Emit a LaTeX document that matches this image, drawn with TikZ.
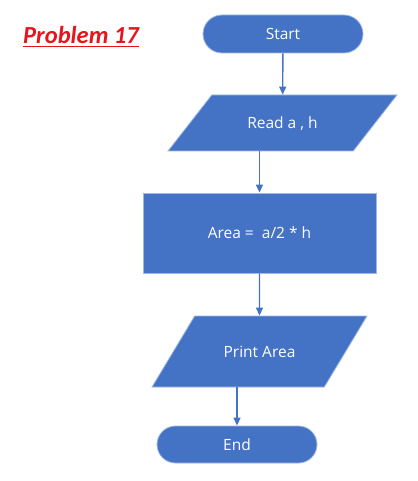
\documentclass[tikz,border=0pt]{standalone}
\usepackage{fontspec}
\setmainfont{Open Sans}
\newfontfamily\titlefont{Carlito}
\usetikzlibrary{shapes.geometric,shapes.misc,arrows.meta}
\definecolor{flowblue}{RGB}{68,114,196}
\definecolor{edgeblue}{RGB}{160,185,230}
\definecolor{titlered}{RGB}{232,20,28}
\begin{document}
\begin{tikzpicture}[x=1pt,y=-1pt,
  box/.style={fill=flowblue, draw=edgeblue, line width=0.8pt, text=white,
    font=\fontsize{15.5}{18}\selectfont, inner sep=0pt, text height=12.5pt, text depth=1.5pt},
  term/.style={box, rounded rectangle, minimum width=160pt, minimum height=38pt},
  proc/.style={box, rectangle, minimum width=233pt, minimum height=80pt},
  io/.style={box, trapezium, trapezium stretches body=true},
  flow/.style={-{Triangle[length=8pt,width=7pt]}, flowblue, line width=1.4pt}]
\useasboundingbox (0,0) rectangle (417,481);
% title
\node[text=titlered, font=\titlefont\bfseries\itshape\fontsize{24.5}{28}\selectfont,
  anchor=base west, inner sep=0pt] (title) at (23,44) {Problem 17};
\draw[titlered, line width=1.6pt] ([yshift=-2.5pt]title.base west) -- ([yshift=-2.5pt]title.base east);
% shapes
\node[term] (start) at (283,34) {Start};
\node[io, minimum width=229pt, inner ysep=21pt,
  trapezium left angle=52, trapezium right angle=128] (read) at (282.5,123) {Read a , h};
\node[proc] (area) at (259.5,233) {Area =\ \ a/2 * h};
\node[io, minimum width=215pt, inner ysep=28.5pt,
  trapezium left angle=59, trapezium right angle=121] (print) at (259.5,351.5) {Print Area};
\node[term, minimum height=37pt] (end) at (237,444.5) {End};
% arrows
\draw[flow] (start) -- (read);
\draw[flow] (read.south -| area.north) -- (area.north);
\draw[flow] (area) -- (print);
\draw[flow] (print.south -| end.north) -- (end.north);
\end{tikzpicture}
\end{document}
